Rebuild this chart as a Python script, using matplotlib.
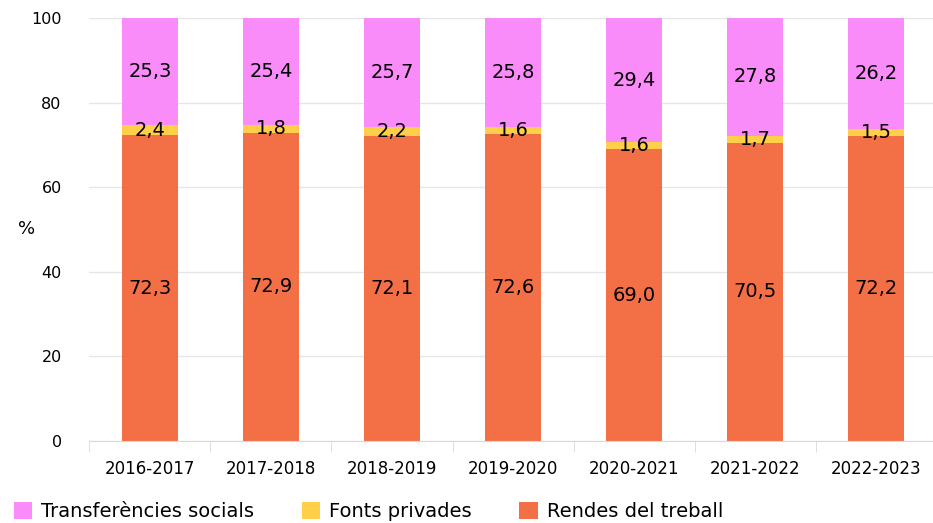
import numpy as np
import matplotlib.pyplot as plt

years = ['2016-2017', '2017-2018', '2018-2019', '2019-2020', '2020-2021', '2021-2022', '2022-2023']
rendes = [72.3, 72.9, 72.1, 72.6, 69.0, 70.5, 72.2]
fonts = [2.4, 1.8, 2.2, 1.6, 1.6, 1.7, 1.5]
transf = [25.3, 25.4, 25.7, 25.8, 29.4, 27.8, 26.2]

c_rendes = '#F36F46'
c_fonts = '#FFCF4A'
c_transf = '#FA8CFA'

fig = plt.figure(figsize=(9.33, 5.23), dpi=100)
ax = fig.add_axes([0.0959, 0.1568, 0.9079, 0.8088])

x = np.arange(len(years))
w = 0.46
r = np.array(rendes)
f = np.array(fonts)
t = np.array(transf)

b1 = ax.bar(x, r, w, color=c_rendes, label='Rendes del treball', zorder=2)
b2 = ax.bar(x, f, w, bottom=r, color=c_fonts, label='Fonts privades', zorder=2)
b3 = ax.bar(x, t, w, bottom=r + f, color=c_transf, label='Transferències socials', zorder=2)

def fmt(v):
    return f'{v:.1f}'.replace('.', ',')

for i in range(len(years)):
    ax.text(x[i], r[i] / 2, fmt(r[i]), ha='center', va='center', fontsize=14, zorder=3)
    ax.text(x[i], r[i] + f[i] / 2, fmt(f[i]), ha='center', va='center', fontsize=14, zorder=3)
    ax.text(x[i], r[i] + f[i] + t[i] / 2, fmt(t[i]), ha='center', va='center', fontsize=14, zorder=3)

ax.set_xlim(-0.5, len(years) - 0.5)
ax.set_ylim(0, 100)
ax.set_yticks(np.arange(0, 101, 20))
ax.yaxis.grid(True, color='#e6e6e6', linewidth=1, zorder=0)
ax.set_axisbelow(True)
for s in ['top', 'right', 'left']:
    ax.spines[s].set_visible(False)
ax.spines['bottom'].set_color('#d9d9d9')
ax.tick_params(axis='y', length=0, pad=20, labelsize=11.5)
ax.set_xticks(x)
ax.set_xticklabels(years)
ax.tick_params(axis='x', length=0, pad=14, labelsize=12)
ax.set_xticks(np.arange(-0.5, len(years), 1), minor=True)
ax.tick_params(axis='x', which='minor', length=8, color='#d9d9d9')

ax.set_ylabel('%', rotation=0, fontsize=13)
ax.yaxis.set_label_coords(-0.074, 0.48)

ax.legend(handles=[b3, b2, b1], loc='lower left', bbox_to_anchor=(0.015, 0.003),
          bbox_transform=fig.transFigure, ncol=3, frameon=False, fontsize=14,
          handlelength=0.95, handleheight=0.95, handletextpad=0.45, columnspacing=2.45,
          borderaxespad=0, borderpad=0)

fig.savefig('out.png', dpi=100)
